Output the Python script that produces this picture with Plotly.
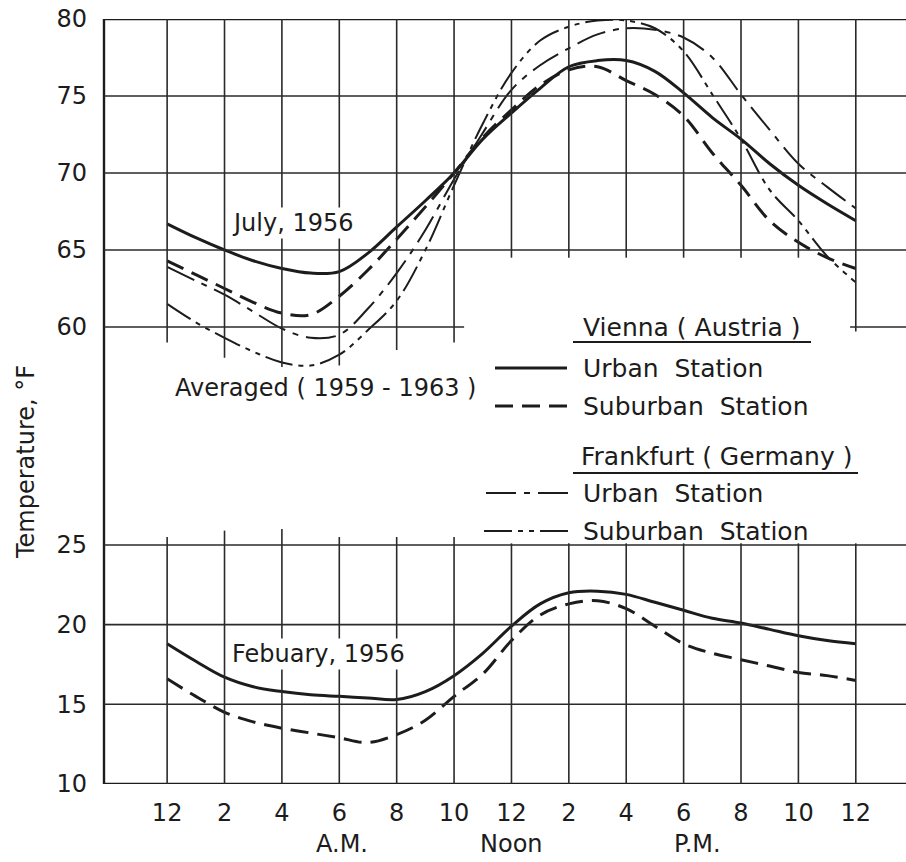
import plotly.graph_objects as go

# ---------------------------------------------------------------- data
hours = list(range(25))  # 0 = midnight, 12 = noon, 24 = midnight

# July curves (deg F)
july_vienna_urban = [66.7, 65.8, 65.0, 64.3, 63.8, 63.5, 63.6, 64.8, 66.5, 68.2, 70.0, 72.2, 73.9,
                     75.5, 76.9, 77.3, 77.3, 76.6, 75.2, 73.6, 72.2, 70.6, 69.2, 68.0, 66.9]
july_vienna_suburban = [64.3, 63.4, 62.5, 61.6, 60.9, 60.8, 62.0, 63.7, 65.7, 67.8, 70.0, 72.3, 74.1,
                        75.7, 76.7, 76.9, 76.0, 75.1, 73.7, 71.3, 69.2, 66.9, 65.5, 64.5, 63.8]
# Frankfurt, averaged 1959-1963
avg_frankfurt_urban = [63.9, 63.0, 62.1, 61.0, 59.9, 59.3, 59.5, 61.2, 63.5, 66.3, 69.6, 72.6, 75.4,
                       77.0, 78.1, 79.0, 79.4, 79.3, 78.8, 77.5, 75.1, 72.8, 70.6, 69.1, 67.7]
avg_frankfurt_suburban = [61.5, 60.3, 59.3, 58.4, 57.7, 57.5, 58.2, 59.8, 61.7, 65.0, 69.2, 73.2, 76.5,
                          78.6, 79.5, 79.9, 79.9, 79.4, 77.9, 75.1, 72.2, 68.9, 66.9, 64.6, 62.9]
# February curves (deg F)
feb_vienna_urban = [18.8, 17.7, 16.7, 16.1, 15.8, 15.6, 15.5, 15.4, 15.3, 15.8, 16.8, 18.2, 19.9,
                    21.3, 22.0, 22.1, 21.9, 21.4, 20.9, 20.4, 20.1, 19.7, 19.3, 19.0, 18.8]
feb_vienna_suburban = [16.6, 15.5, 14.5, 13.9, 13.5, 13.2, 12.9, 12.6, 13.1, 14.0, 15.5, 16.9, 19.0,
                       20.6, 21.3, 21.5, 21.0, 19.9, 18.8, 18.2, 17.8, 17.4, 17.0, 16.8, 16.5]

hour_ticks = list(range(0, 25, 2))
hour_labels = ["12", "2", "4", "6", "8", "10", "12", "2", "4", "6", "8", "10", "12"]
period_labels = ["A.M.", "Noon", "P.M."]
period_hours = [6.1, 12.0, 18.5]
july_ticks = [60, 65, 70, 75, 80]
feb_ticks = [10, 15, 20, 25]

# grid extents (how far each vertical rule reaches past the labelled band)
july_grid_floor = [59.0, 58.0, 57.4, 57.5, 58.5, 59.0, 64.5, 64.5, 64.5, 64.5, 64.5, 64.5, 59.7]
feb_grid_ceiling = [25.5, 25.9, 26.0, 25.5, 25.5, 25.5, 25.1, 25.1, 25.1, 25.1, 25.1, 25.1, 25.1]
july_60_segments = [(-2.2, 10.35), (23.8, 25.75)]

# ---------------------------------------------------------------- styling
INK = "#1c1c1c"
FONT = "DejaVu Sans"
FS = 24
W, H = 906, 862
PL, PT, PW, PH = 104, 19, 802, 765          # plot box in pixels
X_RANGE = [-2.2, 25.75]
JULY_RANGE = [55.26, 80.0]
FEB_RANGE = [10.0, 27.82]


def fx(px):
    return (px - PL) / PW


def fy(py):
    return (PT + PH - py) / PH


DASH_V_SUB = "18px,9px"
DASH_F_URB = "30px,8px,6px,8px"
DASH_F_SUB = "28px,6px,5px,6px,5px,6px"

fig = go.Figure()


def add_curve(values, axis, width, dash):
    fig.add_trace(go.Scatter(
        x=hours, y=values, yaxis=axis, mode="lines",
        line=dict(color=INK, width=width, dash=dash, shape="spline", smoothing=1.0),
        showlegend=False, hoverinfo="skip"))


add_curve(july_vienna_urban, "y", 3.0, "solid")
add_curve(july_vienna_suburban, "y", 3.0, DASH_V_SUB)
add_curve(avg_frankfurt_urban, "y", 2.0, DASH_F_URB)
add_curve(avg_frankfurt_suburban, "y", 2.0, DASH_F_SUB)
add_curve(feb_vienna_urban, "y2", 3.0, "solid")
add_curve(feb_vienna_suburban, "y2", 3.0, DASH_V_SUB)

shapes = []
GRID = dict(color="#2a2a2a", width=1.6)
FRAME = dict(color=INK, width=2.4)

# frame: left rule spanning both panels, top rule at 80, base rule at 10
shapes.append(dict(type="line", xref="paper", yref="paper", x0=0, x1=0, y0=0, y1=1, line=FRAME))
shapes.append(dict(type="line", xref="paper", yref="y", x0=0, x1=1, y0=80, y1=80, line=FRAME))
shapes.append(dict(type="line", xref="paper", yref="y2", x0=0, x1=1, y0=10, y1=10, line=FRAME))

# horizontal rules
for v in july_ticks[1:-1]:
    shapes.append(dict(type="line", xref="paper", yref="y", x0=0, x1=1, y0=v, y1=v, line=GRID))
for a, b in july_60_segments:
    shapes.append(dict(type="line", xref="x", yref="y", x0=a, x1=b, y0=60, y1=60, line=GRID))
for v in feb_ticks[1:]:
    shapes.append(dict(type="line", xref="paper", yref="y2", x0=0, x1=1, y0=v, y1=v, line=GRID))

# vertical rules
for h, lo in zip(hour_ticks, july_grid_floor):
    shapes.append(dict(type="line", xref="x", yref="y", x0=h, x1=h, y0=lo, y1=80, line=GRID))
for h, hi in zip(hour_ticks, feb_grid_ceiling):
    shapes.append(dict(type="line", xref="x", yref="y2", x0=h, x1=h, y0=10, y1=hi, line=GRID))

# key: sample strokes and header underlines
key_rows = [
    (495, 567, 368, 3.0, "solid"),
    (495, 567, 406, 3.0, DASH_V_SUB),
    (486, 570, 493, 2.0, DASH_F_URB),
    (484, 572, 531, 2.0, DASH_F_SUB),
]
for x0, x1, y, w, d in key_rows:
    shapes.append(dict(type="line", xref="paper", yref="paper", x0=fx(x0), x1=fx(x1),
                       y0=fy(y), y1=fy(y), line=dict(color=INK, width=w, dash=d)))
for x0, x1, y in [(573, 811, 342), (573, 858, 473)]:
    shapes.append(dict(type="line", xref="paper", yref="paper", x0=fx(x0), x1=fx(x1),
                       y0=fy(y), y1=fy(y), line=dict(color=INK, width=1.8)))

annotations = []


def label(text, px, py, xanchor="left", bg=None, angle=0, size=FS):
    annotations.append(dict(
        text=text, xref="paper", yref="paper", x=fx(px), y=fy(py),
        xanchor=xanchor, yanchor="middle", showarrow=False, textangle=angle,
        font=dict(family=FONT, size=size, color=INK),
        bgcolor=bg if bg else "rgba(0,0,0,0)", borderpad=1))


label("July, 1956", 230, 223, bg="white")
label("Averaged ( 1959 - 1963 )", 173, 388, bg="white")
label("Febuary, 1956", 230, 654, bg="white")
label("Vienna ( Austria )", 581, 327, size=25)
label("Urban\u00a0\u00a0Station", 581, 368, size=25)
label("Suburban\u00a0\u00a0Station", 581, 406, size=25)
label("Frankfurt ( Germany )", 579, 456, size=25)
label("Urban\u00a0\u00a0Station", 581, 493, size=25)
label("Suburban\u00a0\u00a0Station", 581, 531, size=25)
label("Temperature, °F", 26, 462, xanchor="center", angle=-90)

# A.M. / Noon / P.M. under the hour labels
for text, h in zip(period_labels, period_hours):
    annotations.append(dict(text=text, xref="x", yref="paper", x=h, y=fy(844),
                            xanchor="center", yanchor="middle", showarrow=False,
                            font=dict(family=FONT, size=FS, color=INK)))

tickfont = dict(family=FONT, size=FS, color=INK)
fig.update_layout(
    width=W, height=H,
    margin=dict(l=PL, r=W - PL - PW, t=PT, b=H - PT - PH, pad=0),
    paper_bgcolor="white", plot_bgcolor="white",
    font=dict(family=FONT, color=INK),
    showlegend=False,
    xaxis=dict(domain=[0, 1], range=X_RANGE, anchor="y2", tickmode="array",
               tickvals=hour_ticks, ticktext=hour_labels, showgrid=False, zeroline=False,
               showline=False, ticks="", ticklabelstandoff=12, tickfont=tickfont),
    yaxis=dict(domain=[fy(400), 1], range=JULY_RANGE, anchor="x", tickmode="array",
               tickvals=july_ticks, ticktext=[str(v) for v in july_ticks], showgrid=False,
               zeroline=False, showline=False, ticks="", ticklabelstandoff=16, tickfont=tickfont),
    yaxis2=dict(domain=[0, fy(500)], range=FEB_RANGE, anchor="x", tickmode="array",
                tickvals=feb_ticks, ticktext=[str(v) for v in feb_ticks], showgrid=False,
                zeroline=False, showline=False, ticks="", ticklabelstandoff=16, tickfont=tickfont),
    shapes=shapes,
    annotations=annotations,
)

fig.write_html("out.html")
